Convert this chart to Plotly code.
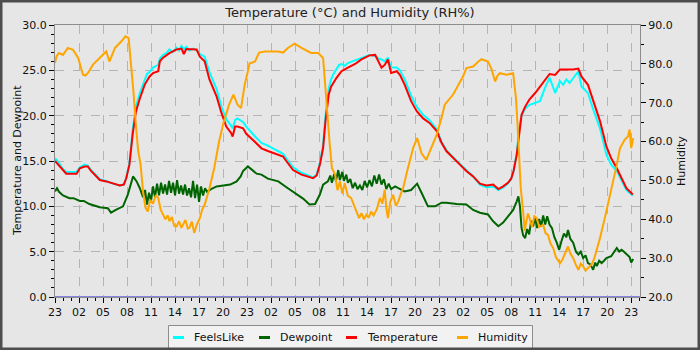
import pandas as pd
import plotly.graph_objects as go

# Hours elapsed since the start of the record (23:00 on the first day)
START = pd.Timestamp("2024-05-13 23:00")

temp_hours = [0, 0.5, 1, 1.4, 2.7, 3.1, 3.7, 4.1, 4.5, 5, 5.6, 6.4, 7.25, 8.1, 8.6, 8.9, 9.3, 9.7,
              10.1, 10.6, 11.2, 11.8, 12.25, 12.9, 13.1, 13.5, 14.3, 15.2, 15.8, 16.1, 16.4, 17.25,
              17.7, 18.1, 18.7, 19.3, 20.2, 20.8, 21.4, 22, 22.2, 22.5, 22.8, 23.5, 23.9, 25, 25.8,
              26.6, 27.9, 28.5, 28.9, 29.75, 30.8, 31.8, 32.25, 32.7, 33.1, 33.5, 33.8, 34.2, 34.5,
              35.2, 35.8, 36.6, 37.5, 38.3, 39.3, 40, 40.4, 40.8, 41.2, 41.6, 42, 42.7, 43.1, 43.7,
              44.5, 45.2, 46, 46.8, 47.7, 48.3, 48.9, 49.75, 50.6, 51.4, 52.25, 53.1, 53.9, 54.75,
              55.4, 56, 56.6, 57, 57.3, 57.7, 58, 58.3, 58.75, 59.3, 60, 60.6, 61.2, 61.8, 62.5,
              63.1, 63.9, 64.75, 65.4, 65.8, 66.6, 67.25, 68.1, 68.9, 69.5, 70.2, 70.8, 71.4, 72.2]
temperature = [15.0, 14.5, 13.9, 13.6, 13.6, 14.2, 14.4, 14.4, 13.9, 13.4, 12.9, 12.75, 12.5, 12.3,
               12.4, 13.1, 14.6, 17.9, 20.4, 21.9, 23.4, 24.3, 24.7, 24.9, 26.0, 26.4, 26.9, 27.3,
               27.4, 26.8, 27.35, 27.3, 27.3, 26.5, 26.0, 24.0, 22.1, 20.3, 18.8, 18.1, 17.7, 18.8,
               18.8, 18.6, 18.0, 17.1, 16.4, 16.1, 15.7, 15.5, 15.0, 14.0, 13.5, 13.2, 13.1, 13.4,
               14.6, 16.4, 19.4, 22.3, 23.2, 24.2, 24.9, 25.3, 25.7, 26.2, 26.65, 26.7, 26.0, 25.3,
               25.6, 26.2, 24.7, 24.9, 24.5, 23.4, 21.6, 20.5, 19.7, 19.2, 18.3, 17.0, 16.1, 15.3,
               14.6, 13.9, 13.3, 12.5, 12.3, 12.4, 11.9, 12.2, 12.6, 13.05, 13.9, 15.7, 18.3, 20.1,
               21.0, 21.8, 22.5, 23.2, 24.0, 24.6, 24.5, 25.1, 25.1, 25.1, 25.2, 24.3, 23.4, 21.6,
               19.4, 16.6, 15.3, 14.2, 13.1, 12.0, 11.3]

feels_hours = [0, 0.5, 1, 1.4, 2.7, 3.1, 3.7, 4.1, 4.5, 5, 5.6, 6.4, 7.25, 8.1, 8.6, 8.9, 9.3, 9.7,
               10.1, 10.6, 11.2, 11.5, 11.8, 12.25, 12.9, 13.1, 13.5, 13.9, 14.3, 14.7, 15.2, 15.5,
               15.8, 16.1, 16.4, 16.8, 17.25, 17.7, 18.1, 18.7, 19.3, 20.2, 20.8, 21.4, 22, 22.2,
               22.5, 22.8, 23.5, 23.9, 25, 25.8, 26.6, 27.9, 28.5, 28.9, 29.75, 30.8, 31.8, 32.25,
               32.7, 33.1, 33.5, 33.8, 34.2, 34.5, 34.8, 35.2, 35.5, 35.8, 36.2, 36.6, 37.5, 38.3,
               39.3, 40, 40.4, 40.8, 41.2, 41.6, 42, 42.7, 43.1, 43.7, 44.5, 45.2, 46, 46.8, 47.7,
               48.3, 48.9, 49.75, 50.6, 51.4, 52.25, 53.1, 53.9, 54.75, 55.4, 56, 56.6, 57, 57.3,
               57.7, 58, 58.3, 58.75, 59.3, 60, 60.6, 61.2, 61.8, 62.5, 63.1, 63.5, 63.9, 64.3,
               64.75, 65.4, 65.8, 66.6, 67.25, 68.1, 68.9, 69.5, 70.2, 70.8, 71.4, 72.2]
feels_like = [15.3, 14.8, 14.1, 13.8, 13.8, 14.3, 14.6, 14.5, 14.0, 13.5, 13.0, 12.8, 12.5, 12.3,
              12.4, 13.1, 14.8, 18.4, 21.0, 22.5, 24.0, 24.6, 24.8, 25.3, 25.6, 26.3, 26.7, 26.9,
              27.3, 27.0, 27.5, 27.2, 27.7, 27.3, 27.6, 27.2, 27.4, 27.2, 26.8, 26.5, 24.8, 22.9,
              21.0, 19.6, 18.9, 18.6, 19.5, 19.7, 19.3, 18.8, 17.7, 17.0, 16.7, 16.1, 15.8, 15.3,
              14.3, 13.7, 13.4, 13.2, 13.5, 14.8, 16.8, 20.0, 23.0, 24.0, 24.6, 25.1, 25.6, 25.7,
              25.5, 25.8, 26.1, 26.4, 26.7, 26.6, 26.3, 26.2, 26.0, 26.4, 25.3, 25.3, 25.0, 24.0,
              22.2, 21.0, 20.1, 19.5, 18.5, 17.1, 16.2, 15.4, 14.7, 13.95, 13.3, 12.4, 12.1, 12.2,
              11.8, 12.1, 12.5, 13.0, 13.9, 15.9, 18.5, 20.0, 20.8, 21.2, 21.4, 21.6, 23.0, 24.2,
              22.5, 23.8, 23.4, 24.0, 23.6, 24.15, 24.9, 23.2, 22.5, 20.7, 18.6, 15.7, 14.6, 13.9,
              12.8, 11.8, 11.2]

dew_hours = [0, 0.25, 0.5, 1, 1.8, 2.3, 3.1, 3.6, 4.3, 5, 5.6, 6.6, 7.0, 7.6, 8.5, 9.1, 9.5, 9.75,
             10.2, 10.6, 11.0, 11.25, 11.5, 11.75, 12.0, 12.25, 12.5, 12.75, 13.0, 13.25, 13.5,
             13.75, 14.0, 14.25, 14.5, 14.75, 15.0, 15.25, 15.5, 15.75, 16.0, 16.25, 16.5, 16.75,
             17.0, 17.25, 17.5, 17.75, 18.0, 18.25, 18.5, 18.75, 19.0, 19.5, 20.2, 21, 21.9, 22.7,
             23.2, 23.5, 24.1, 25.2, 25.8, 26.6, 27.3, 27.9, 29.1, 29.95, 31, 31.8, 32.5, 33.1,
             33.5, 34.1, 34.4, 34.6, 34.9, 35.1, 35.4, 35.6, 35.9, 36.1, 36.4, 36.6, 36.9, 37.2,
             37.5, 37.8, 38.1, 38.4, 38.7, 39.0, 39.3, 39.6, 39.9, 40.2, 40.5, 40.8, 41.1, 41.4,
             41.7, 42, 42.5, 42.9, 43.7, 44.5, 45.25, 45.8, 46.6, 47.5, 48.3, 48.9, 50.2, 51.4,
             52.25, 53.1, 54.1, 54.75, 55.4, 56, 56.6, 57.25, 57.7, 57.9, 58.1, 58.3, 58.5, 58.75,
             59.0, 59.25, 59.5, 59.75, 60.0, 60.25, 60.5, 60.75, 61.0, 61.25, 61.5, 61.8, 62.1,
             62.4, 62.7, 63.0, 63.3, 63.6, 63.9, 64.1, 64.4, 64.75, 65.1, 65.4, 65.7, 66, 66.3,
             66.6, 66.9, 67.25, 67.5, 67.7, 68.0, 68.3, 68.6, 68.9, 69.5, 70.2, 70.5, 70.8, 71.1,
             71.4, 71.8, 72.0, 72.25]
dewpoint = [11.65, 12.0, 11.6, 11.2, 10.9, 10.9, 10.6, 10.6, 10.25, 10.1, 9.9, 9.8, 9.3, 9.6, 10.0,
            11.3, 12.5, 13.3, 12.75, 12.0, 11.0, 11.8, 10.2, 11.5, 10.6, 12.2, 11.0, 12.5, 11.2,
            12.6, 11.4, 12.4, 11.3, 12.8, 11.5, 12.6, 11.2, 12.9, 11.4, 12.3, 11.3, 12.4, 11.2,
            12.0, 11.0, 12.8, 10.9, 12.4, 10.5, 12.2, 11.2, 12.0, 11.6, 11.9, 12.2, 12.3, 12.4,
            12.75, 13.3, 13.9, 14.4, 13.6, 13.5, 13.05, 12.9, 12.75, 12.0, 11.5, 10.85, 10.2,
            10.25, 11.3, 12.4, 12.75, 13.4, 12.6, 13.6, 12.8, 14.0, 12.9, 13.8, 12.8, 13.5, 12.6,
            13.0, 12.0, 12.6, 11.9, 12.3, 11.8, 12.8, 12.1, 12.9, 12.2, 13.4, 12.5, 13.5, 12.4,
            13.0, 11.9, 12.5, 11.9, 12.2, 12.0, 11.65, 11.8, 12.5, 11.5, 10.0, 10.0, 10.4, 10.4,
            10.25, 10.2, 9.6, 9.3, 9.1, 8.35, 7.8, 8.2, 8.9, 9.6, 10.55, 11.1, 10.0, 7.6, 6.8,
            6.5, 7.5, 6.9, 8.4, 7.8, 8.8, 7.6, 8.6, 7.8, 9.0, 8.0, 8.9, 8.0, 7.6, 6.6, 6.0, 5.2,
            6.2, 7.0, 6.6, 7.4, 6.4, 6.0, 5.0, 4.7, 5.0, 4.3, 4.6, 3.75, 3.6, 3.0, 3.8, 3.4, 4.0,
            3.75, 4.0, 4.3, 4.5, 5.4, 5.0, 5.2, 5.0, 4.7, 4.4, 3.8, 4.2]

hum_hours = [0, 0.2, 0.5, 1, 1.6, 2.25, 2.9, 3.5, 3.8, 4.1, 4.75, 5.6, 6.4, 6.8, 7.5, 8.3, 8.8, 9.2,
             9.5, 9.8, 10.1, 10.4, 10.7, 11, 11.3, 11.6, 11.9, 12.25, 12.6, 12.9, 13.2, 13.5, 13.8,
             14.1, 14.3, 14.6, 14.9, 15.2, 15.5, 15.8, 16.0, 16.3, 16.6, 16.8, 17.1, 17.4, 17.7,
             18.1, 18.4, 18.7, 19.0, 19.3, 19.9, 20.5, 21.1, 21.75, 22.3, 22.8, 23.25, 23.7, 24.1,
             24.3, 25, 25.5, 26.2, 27.9, 28.5, 29.1, 29.95, 30.8, 32, 32.9, 33.5, 33.8, 34.05,
             34.3, 34.6, 35, 35.3, 35.6, 35.9, 36.2, 36.6, 37, 37.4, 37.7, 38.0, 38.3, 38.6, 38.9,
             39.2, 39.5, 39.8, 40.2, 40.6, 40.9, 41.2, 41.4, 41.6, 41.9, 42.25, 42.6, 42.9, 43.2,
             43.5, 44.1, 44.75, 45.25, 45.8, 46.4, 47, 47.7, 48.3, 48.7, 49.75, 50.4, 51, 51.4,
             52.25, 52.9, 53.3, 54.1, 54.5, 55, 55.3, 55.6, 56.4, 57.25, 57.6, 57.8, 58, 58.2,
             58.5, 58.7, 58.9, 59.1, 59.3, 59.6, 59.9, 60.2, 60.5, 61, 61.3, 61.6, 61.9, 62.25,
             62.6, 63.1, 63.4, 63.7, 64.1, 64.4, 64.75, 65.1, 65.4, 65.7, 66, 66.3, 66.8, 67.1,
             67.4, 67.7, 68.1, 68.7, 69.3, 69.75, 70.2, 70.6, 71.2, 71.6, 71.8, 72, 72.25]
humidity = [80.2, 82.0, 82.8, 82.3, 84.1, 83.6, 81.5, 77.2, 77.0, 77.6, 79.8, 81.5, 83.2, 80.6,
            84.1, 85.8, 87.1, 86.6, 80.6, 72.9, 64.3, 57.5, 54.0, 47.2, 43.0, 42.0, 45.0, 44.0,
            46.2, 45.5, 42.5, 41.2, 40.0, 41.0, 39.5, 40.6, 38.3, 38.2, 39.5, 37.8, 38.6, 39.8,
            37.6, 37.8, 39.4, 36.5, 38.5, 40.3, 42.5, 43.8, 45.8, 48.0, 53.2, 60.0, 65.2, 69.5,
            72.1, 69.5, 68.6, 74.6, 78.1, 80.1, 80.6, 82.9, 83.2, 83.2, 82.9, 84.1, 85.2, 84.1,
            82.8, 82.8, 81.5, 74.6, 66.9, 60.0, 53.2, 51.5, 47.5, 49.8, 46.6, 49.3, 46.0, 45.5,
            43.2, 42.0, 40.3, 41.6, 40.0, 41.2, 40.4, 42.0, 41.0, 42.5, 45.5, 44.0, 47.6, 43.0,
            40.3, 44.5, 46.3, 43.5, 44.6, 46.5, 48.0, 53.2, 58.3, 60.9, 57.0, 55.3, 58.3, 61.8,
            66.1, 69.5, 72.1, 74.6, 76.8, 78.9, 79.3, 80.6, 81.2, 80.6, 78.9, 75.5, 77.0, 77.6,
            77.2, 77.6, 71.2, 64.3, 55.8, 48.0, 42.0, 37.0, 39.5, 41.5, 40.3, 38.0, 40.8, 40.3,
            38.0, 38.6, 36.4, 36.0, 33.8, 32.6, 30.2, 28.7, 29.6, 30.9, 33.0, 31.2, 30.0, 28.2,
            27.0, 28.6, 27.9, 26.8, 27.9, 28.5, 30.0, 32.0, 35.2, 40.3, 45.5, 49.8, 54.0, 58.3,
            60.5, 61.3, 63.1, 58.3, 60.9]


def times(hours):
    return START + pd.to_timedelta(hours, unit="h")


FONT = "DejaVu Sans"
BG = "#e6e6e6"
GRID = "#b4b4b4"
AXIS = "#8c8c8c"

L, R, T, B = 55, 60, 25, 53
W, H = 700, 350
pw, ph = W - L - R, H - T - B


def px_x(px):
    """Pixel column -> paper x."""
    return (px - L) / pw


def px_y(py):
    """Pixel row -> paper y."""
    return (H - B - py) / ph


fig = go.Figure()
series = [
    ("FeelsLike", feels_hours, feels_like, "#00ffff", "y"),
    ("Dewpoint", dew_hours, dewpoint, "#006400", "y"),
    ("Temperature", temp_hours, temperature, "#ff0000", "y"),
    ("Humidity", hum_hours, humidity, "#ffa500", "y2"),
]
for name, hrs, vals, color, axis in series:
    fig.add_trace(go.Scatter(x=times(hrs), y=vals, name=name, mode="lines",
                             line=dict(color=color, width=2), yaxis=axis, showlegend=False))

fig.update_layout(
    width=W, height=H,
    margin=dict(l=L, r=R, t=T, b=B, autoexpand=False),
    paper_bgcolor=BG, plot_bgcolor=BG,
    font=dict(family=FONT, size=11, color="#111"),
    title=dict(text="Temperature (°C) and Humidity (RH%)", x=0.5, xanchor="center",
               y=1 - 12 / H, yanchor="middle", font=dict(size=13, color="#222")),
    showlegend=False,
    xaxis=dict(
        type="date",
        range=[START, START + pd.Timedelta(hours=73.1)],
        tickformat="%H", dtick=3 * 3600 * 1000, tick0=START,
        ticks="outside", ticklen=5, tickcolor="#000",
        minor=dict(dtick=3600 * 1000, ticks="outside", ticklen=3, tickcolor="#000", showgrid=False),
        showgrid=True, gridcolor=GRID, griddash="dash", gridwidth=1,
        showline=True, linecolor=AXIS, linewidth=1, mirror=True,
        tickfont=dict(size=11), zeroline=False, automargin=False,
    ),
    yaxis=dict(
        range=[0, 30], dtick=5, tickformat=".1f",
        ticks="outside", ticklen=5, tickcolor="#000",
        minor=dict(dtick=1, ticks="outside", ticklen=3, tickcolor="#000", showgrid=False),
        showgrid=True, gridcolor=GRID, griddash="dash", gridwidth=1,
        showline=True, linecolor=AXIS, linewidth=1,
        zeroline=False, automargin=False,
    ),
    yaxis2=dict(
        range=[20, 90], dtick=10, tickformat=".1f", overlaying="y", side="right",
        ticks="outside", ticklen=5, tickcolor="#000",
        minor=dict(dtick=5, ticks="outside", ticklen=3, tickcolor="#000", showgrid=False),
        showgrid=False, showline=True, linecolor=AXIS, linewidth=1,
        zeroline=False, automargin=False,
    ),
)

# axis titles
fig.add_annotation(text="Temperature and Dewpoint", xref="paper", yref="paper",
                   x=px_x(17), y=0.5, textangle=-90, showarrow=False,
                   xanchor="center", yanchor="middle", font=dict(size=11, color="#111"))
fig.add_annotation(text="Humidity", xref="paper", yref="paper",
                   x=px_x(681), y=0.5, textangle=-90, showarrow=False,
                   xanchor="center", yanchor="middle", font=dict(size=11, color="#111"))

# legend box along the bottom edge, built from the series list
fig.add_shape(type="rect", xref="paper", yref="paper",
              x0=px_x(168.5), x1=px_x(532.5), y0=px_y(349), y1=px_y(325.5),
              line=dict(color="#8c8c8c", width=1), fillcolor="#f2f2f2", layer="above")
legend_slots = [173, 259, 346, 457]
for (name, _, _, color, _), sx in zip(series, legend_slots):
    fig.add_shape(type="line", xref="paper", yref="paper",
                  x0=px_x(sx), x1=px_x(sx + 11), y0=px_y(337.5), y1=px_y(337.5),
                  line=dict(color=color, width=3), layer="above")
    fig.add_annotation(text=name, xref="paper", yref="paper", x=px_x(sx + 19), y=px_y(337),
                       showarrow=False, xanchor="left", yanchor="middle",
                       font=dict(size=11, color="#111"))

# zero baseline along the bottom of the plot
fig.add_shape(type="line", xref="paper", yref="y", x0=0, x1=1, y0=0, y1=0,
              line=dict(color="#8484e0", width=2), layer="above")
# dark frame around the whole image
fig.add_shape(type="rect", xref="paper", yref="paper",
              x0=px_x(1), x1=px_x(W - 1), y0=px_y(H - 1), y1=px_y(1),
              line=dict(color="#4d4d4d", width=3), fillcolor="rgba(0,0,0,0)", layer="above")

fig.write_html("out.html")
